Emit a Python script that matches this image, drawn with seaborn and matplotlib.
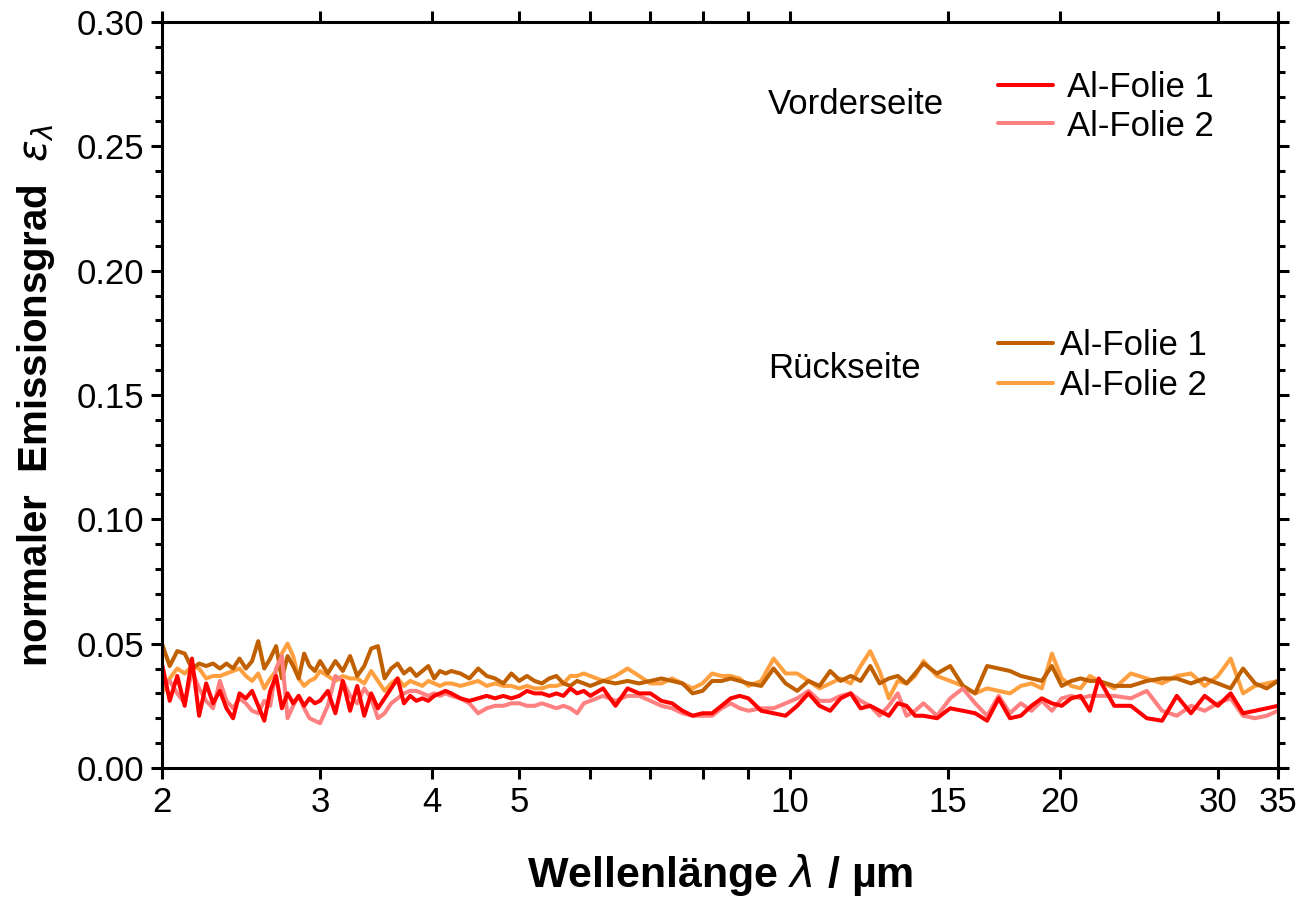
import matplotlib
matplotlib.use("Agg")
import matplotlib.pyplot as plt
from matplotlib.ticker import FixedLocator, FixedFormatter, MultipleLocator, FormatStrFormatter, NullLocator
import seaborn as sns

# wavelength in um (shared sampling of all four spectra)
wavelength = [
    2.00, 2.04, 2.08, 2.12, 2.16, 2.20, 2.24, 2.28, 2.32, 2.36, 2.40, 2.44, 2.48,
    2.52, 2.56, 2.60, 2.64, 2.68, 2.72, 2.76, 2.80, 2.84, 2.88, 2.92, 2.96, 3.00,
    3.06, 3.12, 3.18, 3.24, 3.30, 3.36, 3.42, 3.48, 3.54, 3.60,
    3.66, 3.72, 3.78, 3.84, 3.90, 3.96, 4.02, 4.08, 4.14, 4.20,
    4.3, 4.4, 4.5, 4.6, 4.7, 4.8, 4.9, 5.0, 5.1, 5.2, 5.3, 5.4, 5.5, 5.6, 5.7, 5.8, 5.9, 6.0,
    6.2, 6.4, 6.6, 6.8, 7.0, 7.2, 7.4, 7.6, 7.8, 8.0, 8.2, 8.4, 8.6, 8.8, 9.0,
    9.3, 9.6, 9.9, 10.2, 10.5, 10.8, 11.1, 11.4, 11.7, 12.0, 12.3, 12.6, 12.9, 13.2, 13.5, 13.8, 14.1,
    14.6, 15.1, 15.6, 16.1, 16.6, 17.1, 17.6, 18.1, 18.6, 19.1, 19.6, 20.1, 20.6, 21.1, 21.6, 22.1,
    23, 24, 25, 26, 27, 28, 29, 30, 31, 32, 33, 34, 35,
]

# Vorderseite
front_foil1 = [
    0.042, 0.027, 0.037, 0.025, 0.044, 0.021, 0.034, 0.026, 0.031, 0.024, 0.020, 0.030, 0.028,
    0.031, 0.025, 0.019, 0.031, 0.037, 0.024, 0.030, 0.026, 0.029, 0.025, 0.028, 0.026, 0.027,
    0.031, 0.022, 0.035, 0.023, 0.033, 0.021, 0.030, 0.024, 0.028, 0.032,
    0.036, 0.026, 0.029, 0.027, 0.028, 0.027, 0.029, 0.030, 0.031, 0.030,
    0.028, 0.027, 0.028, 0.029, 0.028, 0.029, 0.028, 0.029, 0.031, 0.030, 0.030, 0.029, 0.030, 0.029, 0.032, 0.030, 0.031, 0.029,
    0.032, 0.025, 0.032, 0.030, 0.030, 0.027, 0.026, 0.023, 0.021, 0.022, 0.022, 0.025, 0.028, 0.029, 0.028,
    0.023, 0.022, 0.021, 0.025, 0.030, 0.025, 0.023, 0.028, 0.030, 0.024, 0.025, 0.023, 0.021, 0.026, 0.025, 0.021, 0.021,
    0.020, 0.024, 0.023, 0.022, 0.019, 0.028, 0.020, 0.021, 0.025, 0.028, 0.026, 0.025, 0.028, 0.029, 0.023, 0.036,
    0.025, 0.025, 0.020, 0.019, 0.029, 0.022, 0.029, 0.025, 0.030, 0.022, 0.023, 0.024, 0.025,
]
front_foil2 = [
    0.034, 0.035, 0.030, 0.026, 0.039, 0.032, 0.027, 0.024, 0.035, 0.027, 0.024, 0.028, 0.026,
    0.023, 0.022, 0.027, 0.025, 0.040, 0.045, 0.020, 0.025, 0.029, 0.024, 0.020, 0.019, 0.018,
    0.025, 0.037, 0.035, 0.029, 0.026, 0.032, 0.028, 0.020, 0.022, 0.026,
    0.028, 0.030, 0.031, 0.031, 0.030, 0.029, 0.030, 0.029, 0.030, 0.029,
    0.028, 0.026, 0.022, 0.024, 0.025, 0.025, 0.026, 0.026, 0.025, 0.025, 0.026, 0.025, 0.024, 0.025, 0.024, 0.022, 0.026, 0.027,
    0.029, 0.027, 0.029, 0.029, 0.027, 0.025, 0.024, 0.022, 0.021, 0.021, 0.021, 0.024, 0.026, 0.024, 0.023,
    0.024, 0.024, 0.026, 0.028, 0.031, 0.027, 0.027, 0.029, 0.030, 0.027, 0.025, 0.021, 0.025, 0.030, 0.021, 0.023, 0.026,
    0.021, 0.028, 0.032, 0.026, 0.021, 0.029, 0.022, 0.026, 0.023, 0.027, 0.023, 0.028, 0.029, 0.028, 0.029, 0.029,
    0.029, 0.028, 0.031, 0.023, 0.021, 0.025, 0.023, 0.026, 0.028, 0.021, 0.020, 0.021, 0.023,
]

# Rückseite
back_foil1 = [
    0.050, 0.041, 0.047, 0.046, 0.040, 0.042, 0.041, 0.042, 0.040, 0.042, 0.040, 0.044, 0.040,
    0.043, 0.051, 0.040, 0.044, 0.049, 0.036, 0.045, 0.041, 0.036, 0.046, 0.041, 0.039, 0.043,
    0.038, 0.043, 0.039, 0.045, 0.037, 0.041, 0.048, 0.049, 0.036, 0.040,
    0.042, 0.038, 0.040, 0.037, 0.039, 0.041, 0.036, 0.039, 0.038, 0.039,
    0.038, 0.036, 0.040, 0.037, 0.036, 0.034, 0.038, 0.035, 0.037, 0.035, 0.034, 0.036, 0.037, 0.034, 0.033, 0.035, 0.034, 0.033,
    0.035, 0.034, 0.035, 0.034, 0.035, 0.036, 0.035, 0.034, 0.030, 0.031, 0.035, 0.035, 0.036, 0.035, 0.034,
    0.033, 0.040, 0.034, 0.031, 0.035, 0.033, 0.039, 0.035, 0.037, 0.035, 0.041, 0.034, 0.036, 0.037, 0.034, 0.038, 0.042,
    0.038, 0.041, 0.033, 0.030, 0.041, 0.040, 0.039, 0.037, 0.036, 0.035, 0.041, 0.033, 0.035, 0.036, 0.035, 0.035,
    0.033, 0.033, 0.035, 0.036, 0.036, 0.034, 0.036, 0.034, 0.032, 0.040, 0.034, 0.032, 0.035,
]
back_foil2 = [
    0.030, 0.036, 0.040, 0.038, 0.041, 0.040, 0.036, 0.037, 0.037, 0.038, 0.039, 0.040, 0.037,
    0.035, 0.038, 0.032, 0.036, 0.039, 0.046, 0.050, 0.045, 0.036, 0.033, 0.035, 0.036, 0.039,
    0.037, 0.035, 0.037, 0.036, 0.036, 0.034, 0.039, 0.035, 0.031, 0.034,
    0.036, 0.033, 0.035, 0.034, 0.033, 0.035, 0.034, 0.033, 0.034, 0.034,
    0.033, 0.034, 0.035, 0.033, 0.034, 0.033, 0.033, 0.032, 0.033, 0.032, 0.032, 0.033, 0.033, 0.034, 0.037, 0.037, 0.038, 0.037,
    0.035, 0.037, 0.040, 0.037, 0.034, 0.034, 0.036, 0.034, 0.032, 0.034, 0.038, 0.037, 0.037, 0.036, 0.033,
    0.035, 0.044, 0.038, 0.038, 0.035, 0.032, 0.034, 0.036, 0.034, 0.041, 0.047, 0.039, 0.028, 0.035, 0.034, 0.037, 0.043,
    0.037, 0.035, 0.033, 0.030, 0.032, 0.031, 0.030, 0.033, 0.034, 0.032, 0.046, 0.036, 0.033, 0.032, 0.037, 0.035,
    0.032, 0.038, 0.036, 0.034, 0.037, 0.038, 0.033, 0.037, 0.044, 0.030, 0.033, 0.034, 0.035,
]

xtick_vals = [2, 3, 4, 5, 6, 7, 8, 9, 10, 15, 20, 30, 35]
xtick_text = ["2", "3", "4", "5", "", "", "", "", "10", "15", "20", "30", "35"]

sns.set_style("ticks")
plt.rcParams["font.family"] = ["Liberation Sans", "DejaVu Sans"]
plt.rcParams["mathtext.fontset"] = "dejavusans"
plt.rcParams["text.color"] = "black"
plt.rcParams["axes.labelcolor"] = "black"
plt.rcParams["xtick.color"] = "black"
plt.rcParams["ytick.color"] = "black"

fig = plt.figure(figsize=(13.01, 8.98), dpi=100)
ax = fig.add_axes([0.1245, 0.1448, 0.8578, 0.8307])

lw = 2.9
sns.lineplot(x=wavelength, y=back_foil2, color="#FFA040", lw=lw, ax=ax)
l_b2 = ax.lines[-1]
sns.lineplot(x=wavelength, y=back_foil1, color="#C06000", lw=lw, ax=ax)
l_b1 = ax.lines[-1]
sns.lineplot(x=wavelength, y=front_foil2, color="#FF8080", lw=lw, ax=ax)
l_f2 = ax.lines[-1]
sns.lineplot(x=wavelength, y=front_foil1, color="#FF0000", lw=lw, ax=ax)
l_f1 = ax.lines[-1]

ax.set_xscale("log")
ax.set_xlim(2, 35)
ax.set_ylim(0, 0.30)
ax.xaxis.set_major_locator(FixedLocator(xtick_vals))
ax.xaxis.set_major_formatter(FixedFormatter(xtick_text))
ax.xaxis.set_minor_locator(NullLocator())
ax.yaxis.set_major_locator(MultipleLocator(0.05))
ax.yaxis.set_minor_locator(MultipleLocator(0.01))
ax.yaxis.set_major_formatter(FormatStrFormatter("%.2f"))

for s in ax.spines.values():
    s.set_linewidth(2.2)
    s.set_color("black")
ax.tick_params(which="both", direction="out", top=True, right=True, width=2.2,
               color="black", labelcolor="black", labelsize=25, pad=5)
ax.tick_params(which="major", length=8)
ax.tick_params(which="minor", length=5)

ax.set_xlabel(r"Wellenlänge $\lambda$ / µm", fontsize=31, fontweight="bold", labelpad=24)
ax.set_ylabel("normaler  Emissionsgrad  $\\varepsilon_\\lambda$", fontsize=29,
              fontweight="bold", labelpad=14)

ax.text(0.543, 0.890, "Vorderseite", transform=ax.transAxes, fontsize=25, va="center", ha="left")
ax.text(0.543, 0.536, "Rückseite", transform=ax.transAxes, fontsize=25, va="center", ha="left")

leg1 = ax.legend(handles=[l_f1, l_f2], labels=["Al-Folie 1", "Al-Folie 2"], loc="center left",
                 bbox_to_anchor=(0.749, 0.886), frameon=False, fontsize=25, handlelength=1.6,
                 handletextpad=0.4, labelspacing=0.15, borderpad=0, borderaxespad=0)
ax.add_artist(leg1)
ax.legend(handles=[l_b1, l_b2], labels=["Al-Folie 1", "Al-Folie 2"], loc="center left",
          bbox_to_anchor=(0.749, 0.5396), frameon=False, fontsize=25, handlelength=1.6,
          handletextpad=0.2, labelspacing=0.2, borderpad=0, borderaxespad=0)

fig.savefig("out.png", dpi=100)
